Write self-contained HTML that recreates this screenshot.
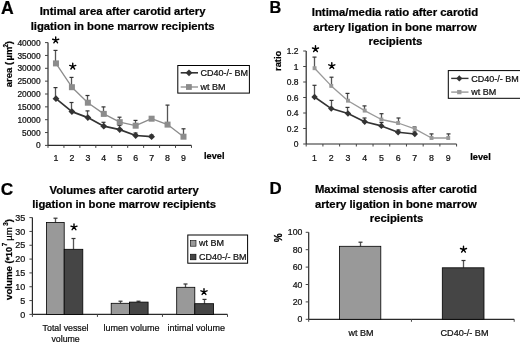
<!DOCTYPE html>
<html><head><meta charset="utf-8"><style>
html,body{margin:0;padding:0;background:#fff;}
body{width:520px;height:343px;overflow:hidden;}
svg{display:block;font-family:"Liberation Sans", sans-serif;will-change:transform;}
text{stroke:#000;stroke-width:0.22px;paint-order:stroke;}
</style></head><body>
<svg width="520" height="343" viewBox="0 0 520 343">
<rect width="520" height="343" fill="#fff"/>
<text x="0.90" y="13.70" font-size="17.6" font-weight="bold" text-anchor="start" fill="#000" >A</text>
<text x="122.60" y="15.10" font-size="11.3" font-weight="bold" text-anchor="middle" fill="#000" >Intimal area after carotid artery</text>
<text x="122.60" y="29.50" font-size="11.3" font-weight="bold" text-anchor="middle" fill="#000" >ligation in bone marrow recipients</text>
<line x1="48.00" y1="42.60" x2="48.00" y2="145.40" stroke="#2a2a2a" stroke-width="1.2"/>
<line x1="48.00" y1="145.40" x2="191.46" y2="145.40" stroke="#2a2a2a" stroke-width="1.2"/>
<line x1="45.00" y1="145.40" x2="48.00" y2="145.40" stroke="#444" stroke-width="1"/>
<text x="40.70" y="148.45" font-size="8.4" text-anchor="end" fill="#111" >0</text>
<line x1="45.00" y1="132.55" x2="48.00" y2="132.55" stroke="#444" stroke-width="1"/>
<text x="40.70" y="135.60" font-size="8.4" text-anchor="end" fill="#111" >5000</text>
<line x1="45.00" y1="119.70" x2="48.00" y2="119.70" stroke="#444" stroke-width="1"/>
<text x="40.70" y="122.75" font-size="8.4" text-anchor="end" fill="#111" >10000</text>
<line x1="45.00" y1="106.85" x2="48.00" y2="106.85" stroke="#444" stroke-width="1"/>
<text x="40.70" y="109.90" font-size="8.4" text-anchor="end" fill="#111" >15000</text>
<line x1="45.00" y1="94.00" x2="48.00" y2="94.00" stroke="#444" stroke-width="1"/>
<text x="40.70" y="97.05" font-size="8.4" text-anchor="end" fill="#111" >20000</text>
<line x1="45.00" y1="81.15" x2="48.00" y2="81.15" stroke="#444" stroke-width="1"/>
<text x="40.70" y="84.20" font-size="8.4" text-anchor="end" fill="#111" >25000</text>
<line x1="45.00" y1="68.30" x2="48.00" y2="68.30" stroke="#444" stroke-width="1"/>
<text x="40.70" y="71.35" font-size="8.4" text-anchor="end" fill="#111" >30000</text>
<line x1="45.00" y1="55.45" x2="48.00" y2="55.45" stroke="#444" stroke-width="1"/>
<text x="40.70" y="58.50" font-size="8.4" text-anchor="end" fill="#111" >35000</text>
<line x1="45.00" y1="42.60" x2="48.00" y2="42.60" stroke="#444" stroke-width="1"/>
<text x="40.70" y="45.65" font-size="8.4" text-anchor="end" fill="#111" >40000</text>
<line x1="48.00" y1="145.40" x2="48.00" y2="147.90" stroke="#444" stroke-width="1"/>
<line x1="63.94" y1="145.40" x2="63.94" y2="147.90" stroke="#444" stroke-width="1"/>
<line x1="79.88" y1="145.40" x2="79.88" y2="147.90" stroke="#444" stroke-width="1"/>
<line x1="95.82" y1="145.40" x2="95.82" y2="147.90" stroke="#444" stroke-width="1"/>
<line x1="111.76" y1="145.40" x2="111.76" y2="147.90" stroke="#444" stroke-width="1"/>
<line x1="127.70" y1="145.40" x2="127.70" y2="147.90" stroke="#444" stroke-width="1"/>
<line x1="143.64" y1="145.40" x2="143.64" y2="147.90" stroke="#444" stroke-width="1"/>
<line x1="159.58" y1="145.40" x2="159.58" y2="147.90" stroke="#444" stroke-width="1"/>
<line x1="175.52" y1="145.40" x2="175.52" y2="147.90" stroke="#444" stroke-width="1"/>
<line x1="191.46" y1="145.40" x2="191.46" y2="147.90" stroke="#444" stroke-width="1"/>
<text x="55.97" y="160.50" font-size="8.8" text-anchor="middle" fill="#111" >1</text>
<text x="71.91" y="160.50" font-size="8.8" text-anchor="middle" fill="#111" >2</text>
<text x="87.85" y="160.50" font-size="8.8" text-anchor="middle" fill="#111" >3</text>
<text x="103.79" y="160.50" font-size="8.8" text-anchor="middle" fill="#111" >4</text>
<text x="119.73" y="160.50" font-size="8.8" text-anchor="middle" fill="#111" >5</text>
<text x="135.67" y="160.50" font-size="8.8" text-anchor="middle" fill="#111" >6</text>
<text x="151.61" y="160.50" font-size="8.8" text-anchor="middle" fill="#111" >7</text>
<text x="167.55" y="160.50" font-size="8.8" text-anchor="middle" fill="#111" >8</text>
<text x="183.49" y="160.50" font-size="8.8" text-anchor="middle" fill="#111" >9</text>
<text x="204.00" y="158.60" font-size="9.2" font-weight="bold" text-anchor="start" fill="#000" >level</text>
<text transform="translate(12.30,0) rotate(-90)" x="-87.30" y="0" font-size="9.5" font-weight="bold" fill="#000">area (</text>
<text transform="translate(12.30,0) rotate(-90)" x="-60.60" y="0" font-size="9.5" font-weight="bold" fill="#000">µm</text>
<text transform="translate(7.60,0) rotate(-90)" x="-47.40" y="0" font-size="6.3" font-weight="bold" fill="#000">2</text>
<text transform="translate(12.30,0) rotate(-90)" x="-44.20" y="0" font-size="9.5" font-weight="bold" fill="#000">)</text>
<line x1="55.50" y1="98.70" x2="55.50" y2="87.60" stroke="#555" stroke-width="1.3"/>
<line x1="53.50" y1="87.60" x2="57.50" y2="87.60" stroke="#333" stroke-width="1.2"/>
<line x1="71.50" y1="111.60" x2="71.50" y2="102.50" stroke="#555" stroke-width="1.3"/>
<line x1="69.50" y1="102.50" x2="73.50" y2="102.50" stroke="#333" stroke-width="1.2"/>
<line x1="87.50" y1="117.60" x2="87.50" y2="110.90" stroke="#555" stroke-width="1.3"/>
<line x1="85.50" y1="110.90" x2="89.50" y2="110.90" stroke="#333" stroke-width="1.2"/>
<line x1="103.50" y1="126.20" x2="103.50" y2="122.30" stroke="#555" stroke-width="1.3"/>
<line x1="101.50" y1="122.30" x2="105.50" y2="122.30" stroke="#333" stroke-width="1.2"/>
<line x1="119.50" y1="129.60" x2="119.50" y2="125.50" stroke="#555" stroke-width="1.3"/>
<line x1="117.50" y1="125.50" x2="121.50" y2="125.50" stroke="#333" stroke-width="1.2"/>
<line x1="135.50" y1="135.50" x2="135.50" y2="133.00" stroke="#555" stroke-width="1.3"/>
<line x1="133.50" y1="133.00" x2="137.50" y2="133.00" stroke="#333" stroke-width="1.2"/>
<line x1="151.50" y1="136.70" x2="151.50" y2="135.00" stroke="#555" stroke-width="1.3"/>
<line x1="149.50" y1="135.00" x2="153.50" y2="135.00" stroke="#333" stroke-width="1.2"/>
<line x1="55.50" y1="63.40" x2="55.50" y2="50.40" stroke="#555" stroke-width="1.3"/>
<line x1="53.50" y1="50.40" x2="57.50" y2="50.40" stroke="#333" stroke-width="1.2"/>
<line x1="71.50" y1="87.20" x2="71.50" y2="77.40" stroke="#555" stroke-width="1.3"/>
<line x1="69.50" y1="77.40" x2="73.50" y2="77.40" stroke="#333" stroke-width="1.2"/>
<line x1="87.50" y1="102.70" x2="87.50" y2="95.50" stroke="#555" stroke-width="1.3"/>
<line x1="85.50" y1="95.50" x2="89.50" y2="95.50" stroke="#333" stroke-width="1.2"/>
<line x1="103.50" y1="113.90" x2="103.50" y2="106.90" stroke="#555" stroke-width="1.3"/>
<line x1="101.50" y1="106.90" x2="105.50" y2="106.90" stroke="#333" stroke-width="1.2"/>
<line x1="119.50" y1="122.20" x2="119.50" y2="117.20" stroke="#555" stroke-width="1.3"/>
<line x1="117.50" y1="117.20" x2="121.50" y2="117.20" stroke="#333" stroke-width="1.2"/>
<line x1="135.50" y1="125.70" x2="135.50" y2="120.40" stroke="#555" stroke-width="1.3"/>
<line x1="133.50" y1="120.40" x2="137.50" y2="120.40" stroke="#333" stroke-width="1.2"/>
<line x1="167.50" y1="124.60" x2="167.50" y2="105.10" stroke="#555" stroke-width="1.3"/>
<line x1="165.50" y1="105.10" x2="169.50" y2="105.10" stroke="#333" stroke-width="1.2"/>
<line x1="183.50" y1="136.70" x2="183.50" y2="128.80" stroke="#555" stroke-width="1.3"/>
<line x1="181.50" y1="128.80" x2="185.50" y2="128.80" stroke="#333" stroke-width="1.2"/>
<polyline points="55.97,63.40 71.91,87.20 87.85,102.70 103.79,113.90 119.73,122.20 135.67,125.70 151.61,118.70 167.55,124.60 183.49,136.70" fill="none" stroke="#8c8c8c" stroke-width="1.3" stroke-linejoin="round"/>
<polyline points="55.97,98.70 71.91,111.60 87.85,117.60 103.79,126.20 119.73,129.60 135.67,135.50 151.61,136.70" fill="none" stroke="#333" stroke-width="1.7" stroke-linejoin="round"/>
<rect x="52.97" y="60.40" width="6.00" height="6.00" fill="#8c8c8c" stroke="none" stroke-width="1"/>
<rect x="68.91" y="84.20" width="6.00" height="6.00" fill="#8c8c8c" stroke="none" stroke-width="1"/>
<rect x="84.85" y="99.70" width="6.00" height="6.00" fill="#8c8c8c" stroke="none" stroke-width="1"/>
<rect x="100.79" y="110.90" width="6.00" height="6.00" fill="#8c8c8c" stroke="none" stroke-width="1"/>
<rect x="116.73" y="119.20" width="6.00" height="6.00" fill="#8c8c8c" stroke="none" stroke-width="1"/>
<rect x="132.67" y="122.70" width="6.00" height="6.00" fill="#8c8c8c" stroke="none" stroke-width="1"/>
<rect x="148.61" y="115.70" width="6.00" height="6.00" fill="#8c8c8c" stroke="none" stroke-width="1"/>
<rect x="164.55" y="121.60" width="6.00" height="6.00" fill="#8c8c8c" stroke="none" stroke-width="1"/>
<rect x="180.49" y="133.70" width="6.00" height="6.00" fill="#8c8c8c" stroke="none" stroke-width="1"/>
<path d="M55.97 95.30L59.37 98.70L55.97 102.10L52.57 98.70Z" fill="#333"/>
<path d="M71.91 108.20L75.31 111.60L71.91 115.00L68.51 111.60Z" fill="#333"/>
<path d="M87.85 114.20L91.25 117.60L87.85 121.00L84.45 117.60Z" fill="#333"/>
<path d="M103.79 122.80L107.19 126.20L103.79 129.60L100.39 126.20Z" fill="#333"/>
<path d="M119.73 126.20L123.13 129.60L119.73 133.00L116.33 129.60Z" fill="#333"/>
<path d="M135.67 132.10L139.07 135.50L135.67 138.90L132.27 135.50Z" fill="#333"/>
<path d="M151.61 133.30L155.01 136.70L151.61 140.10L148.21 136.70Z" fill="#333"/>
<path d="M55.70 40.20L55.70 37.00M55.70 40.20L58.74 39.21M55.70 40.20L57.58 42.79M55.70 40.20L53.82 42.79M55.70 40.20L52.66 39.21" stroke="#000" stroke-width="1.4" stroke-linecap="round" fill="none"/>
<path d="M72.75 66.40L72.75 63.20M72.75 66.40L75.79 65.41M72.75 66.40L74.63 68.99M72.75 66.40L70.87 68.99M72.75 66.40L69.71 65.41" stroke="#000" stroke-width="1.4" stroke-linecap="round" fill="none"/>
<rect x="177.80" y="65.50" width="71.60" height="27.60" fill="#fff" stroke="#000" stroke-width="1"/>
<line x1="180.70" y1="72.80" x2="198.00" y2="72.80" stroke="#333" stroke-width="1.6"/>
<path d="M189.00 69.40L192.40 72.80L189.00 76.20L185.60 72.80Z" fill="#333"/>
<text x="200.60" y="75.90" font-size="9" text-anchor="start" fill="#111" >CD40-/- BM</text>
<line x1="180.70" y1="87.00" x2="198.00" y2="87.00" stroke="#8c8c8c" stroke-width="1.3"/>
<rect x="186.00" y="84.10" width="5.80" height="5.80" fill="#8c8c8c" stroke="none" stroke-width="1"/>
<text x="200.60" y="90.10" font-size="9" text-anchor="start" fill="#111" >wt BM</text>
<text x="269.60" y="12.90" font-size="16.3" font-weight="bold" text-anchor="start" fill="#000" >B</text>
<text x="395.00" y="16.20" font-size="11.4" font-weight="bold" text-anchor="middle" fill="#000" >Intima/media ratio after carotid</text>
<text x="394.90" y="30.80" font-size="11.4" font-weight="bold" text-anchor="middle" fill="#000" >artery ligation in bone marrow</text>
<text x="395.50" y="44.60" font-size="11.4" font-weight="bold" text-anchor="middle" fill="#000" >recipients</text>
<line x1="306.20" y1="51.00" x2="306.20" y2="144.00" stroke="#2a2a2a" stroke-width="1.2"/>
<line x1="306.20" y1="144.00" x2="456.59" y2="144.00" stroke="#2a2a2a" stroke-width="1.2"/>
<line x1="303.20" y1="144.00" x2="306.20" y2="144.00" stroke="#444" stroke-width="1"/>
<text x="298.60" y="147.05" font-size="8.5" text-anchor="end" fill="#111" >0</text>
<line x1="303.20" y1="128.50" x2="306.20" y2="128.50" stroke="#444" stroke-width="1"/>
<text x="298.60" y="131.55" font-size="8.5" text-anchor="end" fill="#111" >0.2</text>
<line x1="303.20" y1="113.00" x2="306.20" y2="113.00" stroke="#444" stroke-width="1"/>
<text x="298.60" y="116.05" font-size="8.5" text-anchor="end" fill="#111" >0.4</text>
<line x1="303.20" y1="97.50" x2="306.20" y2="97.50" stroke="#444" stroke-width="1"/>
<text x="298.60" y="100.55" font-size="8.5" text-anchor="end" fill="#111" >0.6</text>
<line x1="303.20" y1="82.00" x2="306.20" y2="82.00" stroke="#444" stroke-width="1"/>
<text x="298.60" y="85.05" font-size="8.5" text-anchor="end" fill="#111" >0.8</text>
<line x1="303.20" y1="66.50" x2="306.20" y2="66.50" stroke="#444" stroke-width="1"/>
<text x="298.60" y="69.55" font-size="8.5" text-anchor="end" fill="#111" >1</text>
<line x1="303.20" y1="51.00" x2="306.20" y2="51.00" stroke="#444" stroke-width="1"/>
<text x="298.60" y="54.05" font-size="8.5" text-anchor="end" fill="#111" >1.2</text>
<line x1="306.20" y1="144.00" x2="306.20" y2="146.50" stroke="#444" stroke-width="1"/>
<line x1="322.91" y1="144.00" x2="322.91" y2="146.50" stroke="#444" stroke-width="1"/>
<line x1="339.62" y1="144.00" x2="339.62" y2="146.50" stroke="#444" stroke-width="1"/>
<line x1="356.33" y1="144.00" x2="356.33" y2="146.50" stroke="#444" stroke-width="1"/>
<line x1="373.04" y1="144.00" x2="373.04" y2="146.50" stroke="#444" stroke-width="1"/>
<line x1="389.75" y1="144.00" x2="389.75" y2="146.50" stroke="#444" stroke-width="1"/>
<line x1="406.46" y1="144.00" x2="406.46" y2="146.50" stroke="#444" stroke-width="1"/>
<line x1="423.17" y1="144.00" x2="423.17" y2="146.50" stroke="#444" stroke-width="1"/>
<line x1="439.88" y1="144.00" x2="439.88" y2="146.50" stroke="#444" stroke-width="1"/>
<line x1="456.59" y1="144.00" x2="456.59" y2="146.50" stroke="#444" stroke-width="1"/>
<text x="314.56" y="160.50" font-size="8.8" text-anchor="middle" fill="#111" >1</text>
<text x="331.26" y="160.50" font-size="8.8" text-anchor="middle" fill="#111" >2</text>
<text x="347.98" y="160.50" font-size="8.8" text-anchor="middle" fill="#111" >3</text>
<text x="364.69" y="160.50" font-size="8.8" text-anchor="middle" fill="#111" >4</text>
<text x="381.39" y="160.50" font-size="8.8" text-anchor="middle" fill="#111" >5</text>
<text x="398.11" y="160.50" font-size="8.8" text-anchor="middle" fill="#111" >6</text>
<text x="414.81" y="160.50" font-size="8.8" text-anchor="middle" fill="#111" >7</text>
<text x="431.52" y="160.50" font-size="8.8" text-anchor="middle" fill="#111" >8</text>
<text x="448.24" y="160.50" font-size="8.8" text-anchor="middle" fill="#111" >9</text>
<text x="470.30" y="159.70" font-size="9.2" font-weight="bold" text-anchor="start" fill="#000" >level</text>
<text transform="translate(281.40,0) rotate(-90)" x="-71.00" y="0" font-size="9.4" font-weight="bold" fill="#000">ratio</text>
<line x1="314.50" y1="97.00" x2="314.50" y2="85.30" stroke="#555" stroke-width="1.3"/>
<line x1="312.50" y1="85.30" x2="316.50" y2="85.30" stroke="#333" stroke-width="1.2"/>
<line x1="331.50" y1="108.60" x2="331.50" y2="100.40" stroke="#555" stroke-width="1.3"/>
<line x1="329.50" y1="100.40" x2="333.50" y2="100.40" stroke="#333" stroke-width="1.2"/>
<line x1="347.50" y1="113.50" x2="347.50" y2="107.40" stroke="#555" stroke-width="1.3"/>
<line x1="345.50" y1="107.40" x2="349.50" y2="107.40" stroke="#333" stroke-width="1.2"/>
<line x1="364.50" y1="121.80" x2="364.50" y2="118.00" stroke="#555" stroke-width="1.3"/>
<line x1="362.50" y1="118.00" x2="366.50" y2="118.00" stroke="#333" stroke-width="1.2"/>
<line x1="381.50" y1="125.90" x2="381.50" y2="122.50" stroke="#555" stroke-width="1.3"/>
<line x1="379.50" y1="122.50" x2="383.50" y2="122.50" stroke="#333" stroke-width="1.2"/>
<line x1="398.50" y1="132.20" x2="398.50" y2="130.00" stroke="#555" stroke-width="1.3"/>
<line x1="396.50" y1="130.00" x2="400.50" y2="130.00" stroke="#333" stroke-width="1.2"/>
<line x1="414.50" y1="134.00" x2="414.50" y2="132.00" stroke="#555" stroke-width="1.3"/>
<line x1="412.50" y1="132.00" x2="416.50" y2="132.00" stroke="#333" stroke-width="1.2"/>
<line x1="314.50" y1="68.20" x2="314.50" y2="57.10" stroke="#555" stroke-width="1.3"/>
<line x1="312.50" y1="57.10" x2="316.50" y2="57.10" stroke="#333" stroke-width="1.2"/>
<line x1="331.50" y1="85.90" x2="331.50" y2="77.20" stroke="#555" stroke-width="1.3"/>
<line x1="329.50" y1="77.20" x2="333.50" y2="77.20" stroke="#333" stroke-width="1.2"/>
<line x1="347.50" y1="100.70" x2="347.50" y2="93.40" stroke="#555" stroke-width="1.3"/>
<line x1="345.50" y1="93.40" x2="349.50" y2="93.40" stroke="#333" stroke-width="1.2"/>
<line x1="364.50" y1="110.60" x2="364.50" y2="105.90" stroke="#555" stroke-width="1.3"/>
<line x1="362.50" y1="105.90" x2="366.50" y2="105.90" stroke="#333" stroke-width="1.2"/>
<line x1="381.50" y1="119.50" x2="381.50" y2="113.70" stroke="#555" stroke-width="1.3"/>
<line x1="379.50" y1="113.70" x2="383.50" y2="113.70" stroke="#333" stroke-width="1.2"/>
<line x1="398.50" y1="123.00" x2="398.50" y2="118.00" stroke="#555" stroke-width="1.3"/>
<line x1="396.50" y1="118.00" x2="400.50" y2="118.00" stroke="#333" stroke-width="1.2"/>
<line x1="414.50" y1="128.90" x2="414.50" y2="127.00" stroke="#555" stroke-width="1.3"/>
<line x1="412.50" y1="127.00" x2="416.50" y2="127.00" stroke="#333" stroke-width="1.2"/>
<line x1="431.50" y1="138.00" x2="431.50" y2="133.90" stroke="#555" stroke-width="1.3"/>
<line x1="429.50" y1="133.90" x2="433.50" y2="133.90" stroke="#333" stroke-width="1.2"/>
<line x1="448.50" y1="138.00" x2="448.50" y2="133.90" stroke="#555" stroke-width="1.3"/>
<line x1="446.50" y1="133.90" x2="450.50" y2="133.90" stroke="#333" stroke-width="1.2"/>
<polyline points="314.56,68.20 331.26,85.90 347.98,100.70 364.69,110.60 381.39,119.50 398.11,123.00 414.81,128.90 431.52,138.00 448.24,138.00" fill="none" stroke="#999" stroke-width="1.3" stroke-linejoin="round"/>
<polyline points="314.56,97.00 331.26,108.60 347.98,113.50 364.69,121.80 381.39,125.90 398.11,132.20 414.81,134.00" fill="none" stroke="#333" stroke-width="1.6" stroke-linejoin="round"/>
<rect x="312.61" y="66.25" width="3.90" height="3.90" fill="#999" stroke="none" stroke-width="1"/>
<rect x="329.31" y="83.95" width="3.90" height="3.90" fill="#999" stroke="none" stroke-width="1"/>
<rect x="346.03" y="98.75" width="3.90" height="3.90" fill="#999" stroke="none" stroke-width="1"/>
<rect x="362.74" y="108.65" width="3.90" height="3.90" fill="#999" stroke="none" stroke-width="1"/>
<rect x="379.44" y="117.55" width="3.90" height="3.90" fill="#999" stroke="none" stroke-width="1"/>
<rect x="396.16" y="121.05" width="3.90" height="3.90" fill="#999" stroke="none" stroke-width="1"/>
<rect x="412.87" y="126.95" width="3.90" height="3.90" fill="#999" stroke="none" stroke-width="1"/>
<rect x="429.57" y="136.05" width="3.90" height="3.90" fill="#999" stroke="none" stroke-width="1"/>
<rect x="446.29" y="136.05" width="3.90" height="3.90" fill="#999" stroke="none" stroke-width="1"/>
<path d="M314.56 93.80L317.75 97.00L314.56 100.20L311.36 97.00Z" fill="#333"/>
<path d="M331.26 105.40L334.46 108.60L331.26 111.80L328.06 108.60Z" fill="#333"/>
<path d="M347.98 110.30L351.18 113.50L347.98 116.70L344.78 113.50Z" fill="#333"/>
<path d="M364.69 118.60L367.88 121.80L364.69 125.00L361.49 121.80Z" fill="#333"/>
<path d="M381.39 122.70L384.59 125.90L381.39 129.10L378.19 125.90Z" fill="#333"/>
<path d="M398.11 129.00L401.31 132.20L398.11 135.40L394.91 132.20Z" fill="#333"/>
<path d="M414.81 130.80L418.01 134.00L414.81 137.20L411.62 134.00Z" fill="#333"/>
<path d="M315.50 49.00L315.50 45.80M315.50 49.00L318.54 48.01M315.50 49.00L317.38 51.59M315.50 49.00L313.62 51.59M315.50 49.00L312.46 48.01" stroke="#000" stroke-width="1.4" stroke-linecap="round" fill="none"/>
<path d="M331.80 65.80L331.80 62.60M331.80 65.80L334.84 64.81M331.80 65.80L333.68 68.39M331.80 65.80L329.92 68.39M331.80 65.80L328.76 64.81" stroke="#000" stroke-width="1.4" stroke-linecap="round" fill="none"/>
<rect x="448.30" y="70.60" width="80.00" height="27.70" fill="#fff" stroke="#000" stroke-width="1"/>
<line x1="451.20" y1="78.40" x2="468.50" y2="78.40" stroke="#333" stroke-width="1.4"/>
<path d="M459.30 75.30L462.40 78.40L459.30 81.50L456.20 78.40Z" fill="#333"/>
<text x="471.30" y="81.60" font-size="9" text-anchor="start" fill="#111" >CD40-/- BM</text>
<line x1="451.20" y1="92.10" x2="468.50" y2="92.10" stroke="#999" stroke-width="1.4"/>
<rect x="457.15" y="89.95" width="4.30" height="4.30" fill="#999" stroke="none" stroke-width="1"/>
<text x="471.30" y="95.40" font-size="9" text-anchor="start" fill="#111" >wt BM</text>
<text x="0.80" y="195.40" font-size="17.2" font-weight="bold" text-anchor="start" fill="#000" >C</text>
<text x="124.10" y="194.20" font-size="11.3" font-weight="bold" text-anchor="middle" fill="#000" >Volumes after carotid artery</text>
<text x="124.10" y="208.40" font-size="11.3" font-weight="bold" text-anchor="middle" fill="#000" >ligation in bone marrow recipients</text>
<line x1="32.40" y1="217.60" x2="32.40" y2="314.40" stroke="#2a2a2a" stroke-width="1.2"/>
<line x1="32.40" y1="314.40" x2="227.49" y2="314.40" stroke="#2a2a2a" stroke-width="1.2"/>
<line x1="29.40" y1="314.40" x2="32.40" y2="314.40" stroke="#444" stroke-width="1"/>
<text x="25.30" y="317.50" font-size="9" text-anchor="end" fill="#111" >0</text>
<line x1="29.40" y1="300.57" x2="32.40" y2="300.57" stroke="#444" stroke-width="1"/>
<text x="25.30" y="303.67" font-size="9" text-anchor="end" fill="#111" >5</text>
<line x1="29.40" y1="286.74" x2="32.40" y2="286.74" stroke="#444" stroke-width="1"/>
<text x="25.30" y="289.84" font-size="9" text-anchor="end" fill="#111" >10</text>
<line x1="29.40" y1="272.91" x2="32.40" y2="272.91" stroke="#444" stroke-width="1"/>
<text x="25.30" y="276.01" font-size="9" text-anchor="end" fill="#111" >15</text>
<line x1="29.40" y1="259.09" x2="32.40" y2="259.09" stroke="#444" stroke-width="1"/>
<text x="25.30" y="262.19" font-size="9" text-anchor="end" fill="#111" >20</text>
<line x1="29.40" y1="245.26" x2="32.40" y2="245.26" stroke="#444" stroke-width="1"/>
<text x="25.30" y="248.36" font-size="9" text-anchor="end" fill="#111" >25</text>
<line x1="29.40" y1="231.43" x2="32.40" y2="231.43" stroke="#444" stroke-width="1"/>
<text x="25.30" y="234.53" font-size="9" text-anchor="end" fill="#111" >30</text>
<line x1="29.40" y1="217.60" x2="32.40" y2="217.60" stroke="#444" stroke-width="1"/>
<text x="25.30" y="220.70" font-size="9" text-anchor="end" fill="#111" >35</text>
<line x1="32.40" y1="314.40" x2="32.40" y2="316.90" stroke="#444" stroke-width="1"/>
<line x1="97.43" y1="314.40" x2="97.43" y2="316.90" stroke="#444" stroke-width="1"/>
<line x1="162.46" y1="314.40" x2="162.46" y2="316.90" stroke="#444" stroke-width="1"/>
<line x1="227.49" y1="314.40" x2="227.49" y2="316.90" stroke="#444" stroke-width="1"/>
<text transform="translate(12.30,0) rotate(-90)" x="-300.00" y="0" font-size="9.7" font-weight="bold" fill="#000">volume (</text>
<text transform="translate(12.30,0) rotate(-90)" x="-260.40" y="0" font-size="9.0" font-weight="bold" fill="#000">*10</text>
<text transform="translate(7.00,0) rotate(-90)" x="-246.20" y="0" font-size="6.3" font-weight="bold" fill="#000">7</text>
<text transform="translate(12.30,0) rotate(-90)" x="-240.80" y="0" font-size="9.5" fill="#000">µm</text>
<text transform="translate(7.60,0) rotate(-90)" x="-225.70" y="0" font-size="6.3" font-weight="bold" fill="#000">3</text>
<text transform="translate(12.30,0) rotate(-90)" x="-222.30" y="0" font-size="9.5" font-weight="bold" fill="#000">)</text>
<line x1="55.50" y1="222.50" x2="55.50" y2="218.20" stroke="#555" stroke-width="1.3"/>
<line x1="53.50" y1="218.20" x2="57.50" y2="218.20" stroke="#333" stroke-width="1.2"/>
<line x1="73.50" y1="249.30" x2="73.50" y2="238.50" stroke="#555" stroke-width="1.3"/>
<line x1="71.50" y1="238.50" x2="75.50" y2="238.50" stroke="#333" stroke-width="1.2"/>
<line x1="120.50" y1="303.30" x2="120.50" y2="301.20" stroke="#555" stroke-width="1.3"/>
<line x1="118.50" y1="301.20" x2="122.50" y2="301.20" stroke="#333" stroke-width="1.2"/>
<line x1="138.50" y1="302.10" x2="138.50" y2="301.20" stroke="#555" stroke-width="1.3"/>
<line x1="136.50" y1="301.20" x2="140.50" y2="301.20" stroke="#333" stroke-width="1.2"/>
<line x1="185.50" y1="287.30" x2="185.50" y2="284.00" stroke="#555" stroke-width="1.3"/>
<line x1="183.50" y1="284.00" x2="187.50" y2="284.00" stroke="#333" stroke-width="1.2"/>
<line x1="204.50" y1="303.70" x2="204.50" y2="299.40" stroke="#555" stroke-width="1.3"/>
<line x1="202.50" y1="299.40" x2="206.50" y2="299.40" stroke="#333" stroke-width="1.2"/>
<rect x="46.40" y="222.50" width="17.80" height="91.90" fill="#999" stroke="#000" stroke-width="0.8"/>
<rect x="64.20" y="249.30" width="18.60" height="65.10" fill="#454545" stroke="#000" stroke-width="0.8"/>
<rect x="111.20" y="303.30" width="18.20" height="11.10" fill="#999" stroke="#000" stroke-width="0.8"/>
<rect x="129.40" y="302.10" width="18.70" height="12.30" fill="#454545" stroke="#000" stroke-width="0.8"/>
<rect x="176.70" y="287.30" width="18.10" height="27.10" fill="#999" stroke="#000" stroke-width="0.8"/>
<rect x="194.80" y="303.70" width="18.80" height="10.70" fill="#454545" stroke="#000" stroke-width="0.8"/>
<path d="M74.00 227.10L74.00 223.90M74.00 227.10L77.04 226.11M74.00 227.10L75.88 229.69M74.00 227.10L72.12 229.69M74.00 227.10L70.96 226.11" stroke="#000" stroke-width="1.4" stroke-linecap="round" fill="none"/>
<path d="M204.00 291.80L204.00 288.60M204.00 291.80L207.04 290.81M204.00 291.80L205.88 294.39M204.00 291.80L202.12 294.39M204.00 291.80L200.96 290.81" stroke="#000" stroke-width="1.4" stroke-linecap="round" fill="none"/>
<text x="65.60" y="330.80" font-size="8.8" text-anchor="middle" fill="#111" >Total vessel</text>
<text x="65.60" y="342.10" font-size="8.8" text-anchor="middle" fill="#111" >volume</text>
<text x="131.60" y="331.20" font-size="9.0" text-anchor="middle" fill="#111" >lumen volume</text>
<text x="196.30" y="331.20" font-size="9.0" text-anchor="middle" fill="#111" >intimal volume</text>
<rect x="187.80" y="235.00" width="59.80" height="28.20" fill="#fff" stroke="#000" stroke-width="1"/>
<rect x="190.40" y="240.60" width="5.60" height="5.60" fill="#999" stroke="#000" stroke-width="0.6"/>
<text x="199.00" y="246.00" font-size="9" text-anchor="start" fill="#111" >wt BM</text>
<rect x="190.40" y="254.20" width="5.60" height="5.60" fill="#454545" stroke="#000" stroke-width="0.6"/>
<text x="199.00" y="259.70" font-size="9" text-anchor="start" fill="#111" >CD40-/- BM</text>
<text x="269.50" y="194.40" font-size="16.9" font-weight="bold" text-anchor="start" fill="#000" >D</text>
<text x="395.90" y="193.40" font-size="11.3" font-weight="bold" text-anchor="middle" fill="#000" >Maximal stenosis after carotid</text>
<text x="395.90" y="207.70" font-size="11.3" font-weight="bold" text-anchor="middle" fill="#000" >artery ligation in bone marrow</text>
<text x="396.50" y="221.90" font-size="11.3" font-weight="bold" text-anchor="middle" fill="#000" >recipients</text>
<line x1="308.70" y1="232.30" x2="308.70" y2="319.30" stroke="#2a2a2a" stroke-width="1.2"/>
<line x1="308.70" y1="319.30" x2="514.20" y2="319.30" stroke="#2a2a2a" stroke-width="1.2"/>
<line x1="305.70" y1="319.30" x2="308.70" y2="319.30" stroke="#444" stroke-width="1"/>
<text x="302.30" y="322.40" font-size="8.7" text-anchor="end" fill="#111" >0</text>
<line x1="305.70" y1="301.90" x2="308.70" y2="301.90" stroke="#444" stroke-width="1"/>
<text x="302.30" y="305.00" font-size="8.7" text-anchor="end" fill="#111" >20</text>
<line x1="305.70" y1="284.50" x2="308.70" y2="284.50" stroke="#444" stroke-width="1"/>
<text x="302.30" y="287.60" font-size="8.7" text-anchor="end" fill="#111" >40</text>
<line x1="305.70" y1="267.10" x2="308.70" y2="267.10" stroke="#444" stroke-width="1"/>
<text x="302.30" y="270.20" font-size="8.7" text-anchor="end" fill="#111" >60</text>
<line x1="305.70" y1="249.70" x2="308.70" y2="249.70" stroke="#444" stroke-width="1"/>
<text x="302.30" y="252.80" font-size="8.7" text-anchor="end" fill="#111" >80</text>
<line x1="305.70" y1="232.30" x2="308.70" y2="232.30" stroke="#444" stroke-width="1"/>
<text x="302.30" y="235.40" font-size="8.7" text-anchor="end" fill="#111" >100</text>
<line x1="308.70" y1="319.30" x2="308.70" y2="321.80" stroke="#444" stroke-width="1"/>
<line x1="411.45" y1="319.30" x2="411.45" y2="321.80" stroke="#444" stroke-width="1"/>
<line x1="514.20" y1="319.30" x2="514.20" y2="321.80" stroke="#444" stroke-width="1"/>
<text transform="translate(281.80,0) rotate(-90)" x="-242.20" y="0" font-size="10.0" font-weight="bold" fill="#000">%</text>
<line x1="360.50" y1="246.30" x2="360.50" y2="242.20" stroke="#555" stroke-width="1.3"/>
<line x1="358.50" y1="242.20" x2="362.50" y2="242.20" stroke="#333" stroke-width="1.2"/>
<line x1="463.50" y1="267.80" x2="463.50" y2="260.50" stroke="#555" stroke-width="1.3"/>
<line x1="461.50" y1="260.50" x2="465.50" y2="260.50" stroke="#333" stroke-width="1.2"/>
<rect x="339.40" y="246.30" width="41.40" height="73.00" fill="#999" stroke="#000" stroke-width="0.8"/>
<rect x="442.30" y="267.80" width="41.70" height="51.50" fill="#454545" stroke="#000" stroke-width="0.8"/>
<path d="M463.50 249.50L463.50 246.30M463.50 249.50L466.54 248.51M463.50 249.50L465.38 252.09M463.50 249.50L461.62 252.09M463.50 249.50L460.46 248.51" stroke="#000" stroke-width="1.4" stroke-linecap="round" fill="none"/>
<text x="361.00" y="336.20" font-size="9.0" text-anchor="middle" fill="#111" >wt BM</text>
<text x="464.50" y="336.30" font-size="9.1" text-anchor="middle" fill="#111" >CD40-/- BM</text>
</svg>
</body></html>
